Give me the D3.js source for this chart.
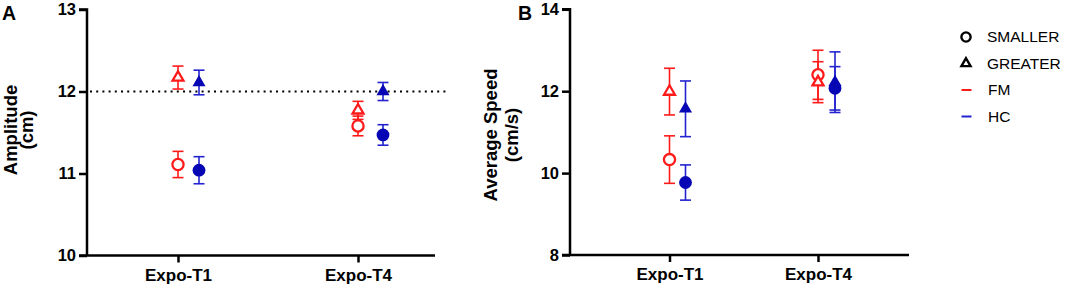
<!DOCTYPE html>
<html>
<head>
<meta charset="utf-8">
<script src="https://cdn.jsdelivr.net/npm/d3@7"></script>
<style>
  body { margin: 0; background: #fff; }
  text { font-family: "Liberation Sans", Arial, sans-serif; }
</style>
</head>
<body>
<div id="chart"></div>
<script>
// categories and groups
const categories = ["Expo-T1", "Expo-T4"];

// Amplitude (cm): mean and SEM
const ampSmallerFM = [11.11, 11.58];
const ampSmallerFMErr = [0.16, 0.12];
const ampSmallerHC = [11.04, 11.47];
const ampSmallerHCErr = [0.165, 0.125];
const ampGreaterFM = [12.17, 11.77];
const ampGreaterFMErr = [0.14, 0.11];
const ampGreaterHC = [12.11, 12.00];
const ampGreaterHCErr = [0.15, 0.11];
const ampTicks = [10, 11, 12, 13];
const ampRefLine = 12;

// Average speed (cm/s)
const spdSmallerFM = [10.33, 12.40];
const spdSmallerFMErr = [0.58, 0.60];
const spdSmallerHC = [9.77, 12.07];
const spdSmallerHCErr = [0.43, 0.53];
const spdGreaterFM = [11.99, 12.22];
const spdGreaterFMErr = [0.57, 0.50];
const spdGreaterHC = [11.57, 12.22];
const spdGreaterHCErr = [0.68, 0.74];
const spdTicks = [8, 10, 12, 14];

const legendShapes = ["SMALLER", "GREATER"];
const legendGroups = ["FM", "HC"];

const RED = "#ff1a1a";
const BLUE = "#2323d0";
const BLUE_FILL = "#0606b4";

const svg = d3.select("#chart")
    .append("svg")
    .attr("width", 1065)
    .attr("height", 288);

const makeSeries = (shape, group, vals, errs) =>
    vals.map((v, i) => ({shape, group, cat: categories[i], value: v, err: errs[i]}));

const drawPanel = (cfg) => {
    const g = svg.append("g");

    const y = d3.scaleLinear()
        .domain(cfg.yDomain)
        .range([cfg.bottom, cfg.top]);

    const x = d3.scalePoint()
        .domain(categories)
        .range(cfg.xTicks);

    // y axis
    const yAxis = d3.axisLeft(y).tickValues(cfg.yTicks).tickSize(8).tickPadding(3).tickFormat(d3.format("d"));
    const yg = g.append("g")
        .attr("transform", `translate(${cfg.left},0)`)
        .call(yAxis);
    yg.select(".domain").attr("stroke-width", 2.5).attr("d", `M-8,${cfg.top}H0V${cfg.bottom}`);
    yg.selectAll(".tick line").attr("stroke-width", 2.5);
    yg.selectAll(".tick text")
        .attr("font-size", 16.5)
        .attr("font-weight", "bold")
        .attr("fill", "#000");

    // x axis
    const xAxis = d3.axisBottom(x).tickSize(7).tickPadding(6);
    const xg = g.append("g")
        .attr("transform", `translate(0,${cfg.bottom})`)
        .call(xAxis);
    xg.select(".domain").attr("stroke-width", 2.5).attr("d", `M${cfg.left - 8},0H${cfg.right}`);
    xg.selectAll(".tick line").attr("stroke-width", 2.5);
    xg.selectAll(".tick text")
        .attr("font-size", 17)
        .attr("font-weight", "bold")
        .attr("fill", "#000");

    // reference line
    if (cfg.refLine !== undefined) {
        g.append("line")
            .attr("x1", cfg.left + 3)
            .attr("x2", cfg.refEnd)
            .attr("y1", y(cfg.refLine))
            .attr("y2", y(cfg.refLine))
            .attr("stroke", "#000")
            .attr("stroke-width", 2)
            .attr("stroke-dasharray", "2,4.2");
    }

    const xPos = d => x(d.cat) + (d.group === "HC" ? cfg.hcOffset[categories.indexOf(d.cat)] : 0);
    const col = d => d.group === "FM" ? RED : BLUE;

    // error bars
    const eb = g.selectAll(".eb")
        .data(cfg.data)
        .join("g")
        .attr("class", "eb")
        .attr("stroke", col)
        .attr("stroke-width", 1.6);
    eb.append("line")
        .attr("x1", xPos).attr("x2", xPos)
        .attr("y1", d => y(d.value + d.err))
        .attr("y2", d => y(d.value - d.err));
    eb.append("line")
        .attr("x1", d => xPos(d) - 5.5).attr("x2", d => xPos(d) + 5.5)
        .attr("y1", d => y(d.value + d.err)).attr("y2", d => y(d.value + d.err));
    eb.append("line")
        .attr("x1", d => xPos(d) - 5.5).attr("x2", d => xPos(d) + 5.5)
        .attr("y1", d => y(d.value - d.err)).attr("y2", d => y(d.value - d.err));

    // markers
    const tri = d3.symbol().type(d3.symbolTriangle);
    cfg.data.forEach(d => {
        const open = d.group === "FM";
        if (d.shape === "SMALLER") {
            g.append("circle")
                .attr("cx", xPos(d))
                .attr("cy", y(d.value))
                .attr("r", open ? 5.6 : 6.4)
                .attr("fill", open ? "#fff" : BLUE_FILL)
                .attr("stroke", open ? RED : "none")
                .attr("stroke-width", 2.3);
        } else {
            g.append("path")
                .attr("transform", `translate(${xPos(d)},${y(d.value)})`)
                .attr("d", tri.size(open ? 52 : 74)())
                .attr("fill", open ? "#fff" : BLUE_FILL)
                .attr("stroke", open ? RED : "none")
                .attr("stroke-width", 2.3)
                .attr("stroke-linejoin", "miter");
        }
    });

    // axis title (two lines, rotated)
    cfg.title.forEach((t, i) => {
        svg.append("text")
            .attr("transform", `translate(${cfg.titleX[i]},${cfg.titleY}) rotate(-90)`)
            .attr("text-anchor", "middle")
            .attr("font-size", 18.5)
            .attr("font-weight", "bold")
            .text(t);
    });

    // panel letter
    svg.append("text")
        .attr("x", cfg.letterX)
        .attr("y", 20)
        .attr("font-size", 19.5)
        .attr("font-weight", "bold")
        .text(cfg.letter);
};

drawPanel({
    letter: "A", letterX: 2,
    left: 87, right: 435, top: 9.5, bottom: 255.5,
    xTicks: [178, 358], hcOffset: [21, 25],
    yDomain: [10, 13], yTicks: ampTicks,
    refLine: ampRefLine, refEnd: 448,
    title: ["Amplitude", "(cm)"], titleX: [17, 33], titleY: 130,
    data: [
        ...makeSeries("SMALLER", "FM", ampSmallerFM, ampSmallerFMErr),
        ...makeSeries("SMALLER", "HC", ampSmallerHC, ampSmallerHCErr),
        ...makeSeries("GREATER", "FM", ampGreaterFM, ampGreaterFMErr),
        ...makeSeries("GREATER", "HC", ampGreaterHC, ampGreaterHCErr)
    ]
});

drawPanel({
    letter: "B", letterX: 518,
    left: 570, right: 909, top: 9.3, bottom: 255,
    xTicks: [669.5, 818], hcOffset: [16, 17],
    yDomain: [8, 14], yTicks: spdTicks,
    title: ["Average Speed", "(cm/s)"], titleX: [497, 518], titleY: 135,
    data: [
        ...makeSeries("SMALLER", "FM", spdSmallerFM, spdSmallerFMErr),
        ...makeSeries("SMALLER", "HC", spdSmallerHC, spdSmallerHCErr),
        ...makeSeries("GREATER", "FM", spdGreaterFM, spdGreaterFMErr),
        ...makeSeries("GREATER", "HC", spdGreaterHC, spdGreaterHCErr)
    ]
});

// legend
const legend = svg.append("g").attr("transform", "translate(966,37)");
const rowH = 26.5;
legendShapes.forEach((s, i) => {
    const row = legend.append("g").attr("transform", `translate(0,${i * rowH})`);
    if (s === "SMALLER") {
        row.append("circle").attr("r", 4.6).attr("fill", "none")
            .attr("stroke", "#000").attr("stroke-width", 2.4);
    } else {
        row.append("path").attr("d", d3.symbol().type(d3.symbolTriangle).size(36)())
            .attr("fill", "none").attr("stroke", "#000").attr("stroke-width", 2.4);
    }
    row.append("text").attr("x", 21).attr("dy", "0.35em")
        .attr("font-size", 15.5).text(s);
});
legendGroups.forEach((s, i) => {
    const row = legend.append("g").attr("transform", `translate(0,${(i + 2) * rowH})`);
    row.append("line").attr("x1", -4.5).attr("x2", 5.5)
        .attr("stroke", s === "FM" ? RED : BLUE).attr("stroke-width", 2);
    row.append("text").attr("x", 22).attr("dy", "0.35em")
        .attr("font-size", 15.5).text(s);
});
</script>
</body>
</html>
